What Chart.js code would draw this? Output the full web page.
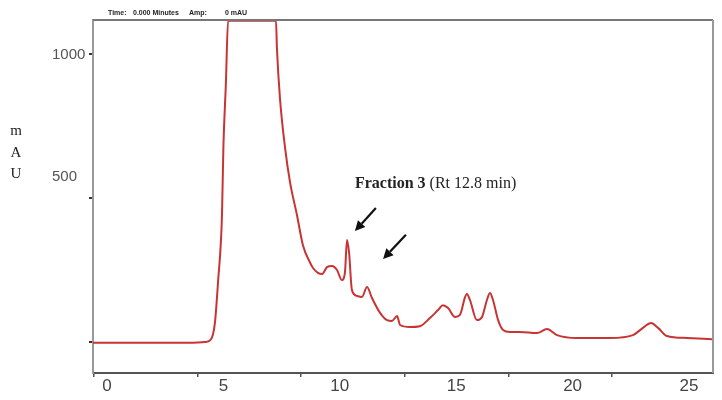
<!DOCTYPE html>
<html><head><meta charset="utf-8">
<script src="https://cdn.jsdelivr.net/npm/chart.js@4/dist/chart.umd.min.js"></script>
<style>
html,body{margin:0;padding:0;background:#fff;}
#wrap{position:relative;width:722px;height:400px;overflow:hidden;}
canvas{position:absolute;left:0;top:0;}
.hdr{position:absolute;top:8px;font:bold 7px "Liberation Sans",Arial,sans-serif;color:#222;white-space:nowrap;line-height:9px;}
#yt{position:absolute;left:6px;top:120px;width:20px;text-align:center;font:15px "Liberation Serif",serif;line-height:21.5px;color:#222;}
</style></head><body>
<div id="wrap">
<canvas id="c" width="722" height="400"></canvas>
<span class="hdr" style="left:108px">Time:</span>
<span class="hdr" style="left:133px">0.000 Minutes</span>
<span class="hdr" style="left:189px">Amp:</span>
<span class="hdr" style="left:225px">0 mAU</span>
<div id="yt">m<br>A<br>U</div>
</div>
<script>
// Retention time (min)
const times = [-0.6, 3.5, 3.9, 4.2, 4.42, 4.55, 4.64, 4.77, 4.94, 5.0, 5.11, 5.2, 7.26, 7.30, 7.43, 7.65, 7.86, 8.16, 8.42, 8.72, 8.85, 9.06, 9.24, 9.45, 9.66, 9.88, 10.09, 10.22, 10.31, 10.40, 10.52, 10.74, 10.95, 11.17, 11.38, 11.73, 12.03, 12.24, 12.46, 12.59, 13.02, 13.44, 13.87, 14.22, 14.43, 14.65, 14.95, 15.16, 15.38, 15.46, 15.59, 15.89, 16.11, 16.32, 16.45, 16.58, 16.80, 17.01, 17.31, 17.74, 18.47, 18.90, 19.33, 20.19, 21.61, 22.59, 23.02, 23.37, 23.67, 24.05, 24.91, 25.99];
// Absorbance (mAU)
const absorbance = [-3, -3, -2, 0, 5, 25, 69, 208, 441, 674, 903, 1115, 1115, 1021, 847, 674, 556, 441, 335, 276, 257, 240, 236, 260, 264, 250, 215, 240, 354, 309, 181, 160, 156, 191, 153, 101, 76, 73, 90, 59, 52, 55, 83, 111, 128, 118, 87, 94, 156, 167, 146, 76, 87, 146, 170, 146, 76, 42, 35, 35, 31, 45, 24, 14, 14, 24, 49, 66, 49, 21, 14, 10];
// Y tick marks and labels
const yTickValues = [0, 500, 1000];
const yTickLabels = ['500', '1000'];
const yTickLabelValues = [573, 997];
// X minor tick marks (instrument grid)
const xMarkValues = [0, 1, 2, 3, 4, 5];
// Annotation
const annotationBold = 'Fraction 3';
const annotationRest = ' (Rt 12.8 min)';
const annotationAt = {x: 10.65, y: 535};
const arrows = [
  {from: {x: 11.55, y: 465}, to: {x: 10.65, y: 385}},
  {from: {x: 12.84, y: 372}, to: {x: 11.86, y: 288}}
];

const Y_MIN = -107.6, Y_MAX = 1118;

const framePlugin = {
  id: 'frame',
  afterDraw(chart) {
    const {ctx, chartArea: a} = chart;
    ctx.save();
    ctx.lineWidth = 2;
    ctx.strokeStyle = '#777';
    ctx.beginPath(); ctx.moveTo(a.left, a.top); ctx.lineTo(a.right, a.top); ctx.stroke();
    ctx.strokeStyle = '#999';
    ctx.beginPath(); ctx.moveTo(a.right, a.top); ctx.lineTo(a.right, a.bottom); ctx.stroke();
    ctx.restore();
  }
};

const annotationPlugin = {
  id: 'annot',
  afterDatasetsDraw(chart) {
    const {ctx} = chart;
    const xs = chart.scales.x, ys = chart.scales.y;
    ctx.save();
    const tx = xs.getPixelForValue(annotationAt.x), ty = ys.getPixelForValue(annotationAt.y);
    ctx.fillStyle = '#222';
    ctx.textBaseline = 'alphabetic';
    ctx.textAlign = 'left';
    ctx.font = 'bold 16px "Liberation Serif", serif';
    ctx.fillText(annotationBold, tx, ty);
    const w = ctx.measureText(annotationBold).width;
    ctx.font = '16px "Liberation Serif", serif';
    ctx.fillText(annotationRest, tx + w, ty);
    ctx.strokeStyle = '#111';
    ctx.fillStyle = '#111';
    ctx.lineWidth = 2.2;
    arrows.forEach(a => {
      const x1 = xs.getPixelForValue(a.from.x), y1 = ys.getPixelForValue(a.from.y);
      const x2 = xs.getPixelForValue(a.to.x), y2 = ys.getPixelForValue(a.to.y);
      const ang = Math.atan2(y2 - y1, x2 - x1);
      const hl = 10, hw = 5;
      const bx = x2 - hl * Math.cos(ang), by = y2 - hl * Math.sin(ang);
      ctx.beginPath(); ctx.moveTo(x1, y1); ctx.lineTo(bx, by); ctx.stroke();
      ctx.beginPath();
      ctx.moveTo(x2, y2);
      ctx.lineTo(bx + hw * Math.sin(ang), by - hw * Math.cos(ang));
      ctx.lineTo(bx - hw * Math.sin(ang), by + hw * Math.cos(ang));
      ctx.closePath(); ctx.fill();
    });
    ctx.restore();
  }
};

new Chart(document.getElementById('c'), {
  type: 'line',
  data: {
    datasets: [{
      data: times.map((t, i) => ({x: t, y: absorbance[i]})),
      borderColor: 'rgb(200,52,52)',
      borderWidth: 2,
      pointRadius: 0,
      fill: false,
      cubicInterpolationMode: 'monotone'
    }]
  },
  options: {
    responsive: false,
    animation: false,
    devicePixelRatio: 1,
    layout: {padding: {left: 52, right: 9, top: 20, bottom: 0}},
    plugins: {legend: {display: false}, tooltip: {enabled: false}},
    scales: {
      x: {
        type: 'linear', position: 'bottom', weight: 1,
        min: -0.6, max: 26.03,
        afterFit: s => { s.height = 27; },
        grid: {display: false, drawTicks: false},
        border: {display: true, color: '#555', width: 2},
        ticks: {stepSize: 5, includeBounds: false, autoSkip: false, maxRotation: 0, padding: 3,
          color: '#444', font: {family: '"Liberation Sans", Arial, sans-serif', size: 17}}
      },
      x2: {
        type: 'linear', position: 'bottom', weight: 0,
        min: -0.01, max: 5.975,
        afterFit: s => { s.height = 0; },
        afterBuildTicks: s => { s.ticks = xMarkValues.map(v => ({value: v})); },
        grid: {drawOnChartArea: false, drawTicks: true, tickLength: 4, color: '#555', lineWidth: 1.5},
        border: {display: false},
        ticks: {display: false, autoSkip: false}
      },
      y: {
        type: 'linear', position: 'left', weight: 0,
        min: Y_MIN, max: Y_MAX,
        afterFit: s => { s.width = 0; },
        afterBuildTicks: s => { s.ticks = yTickValues.map(v => ({value: v})); },
        grid: {drawOnChartArea: false, drawTicks: true, tickLength: 4, color: '#333', lineWidth: 2},
        border: {display: true, color: '#999', width: 2},
        ticks: {display: false, autoSkip: false}
      },
      y2: {
        type: 'linear', position: 'left', weight: 1,
        min: Y_MIN, max: Y_MAX,
        afterFit: s => { s.width = 41; },
        afterBuildTicks: s => { s.ticks = yTickLabelValues.map(v => ({value: v})); },
        grid: {display: false, drawTicks: false},
        border: {display: false},
        ticks: {crossAlign: 'far', padding: 0, autoSkip: false,
          callback: (v, i) => yTickLabels[i],
          color: '#555', font: {family: '"Liberation Sans", Arial, sans-serif', size: 15}}
      }
    }
  },
  plugins: [framePlugin, annotationPlugin]
});
</script>
</body></html>
